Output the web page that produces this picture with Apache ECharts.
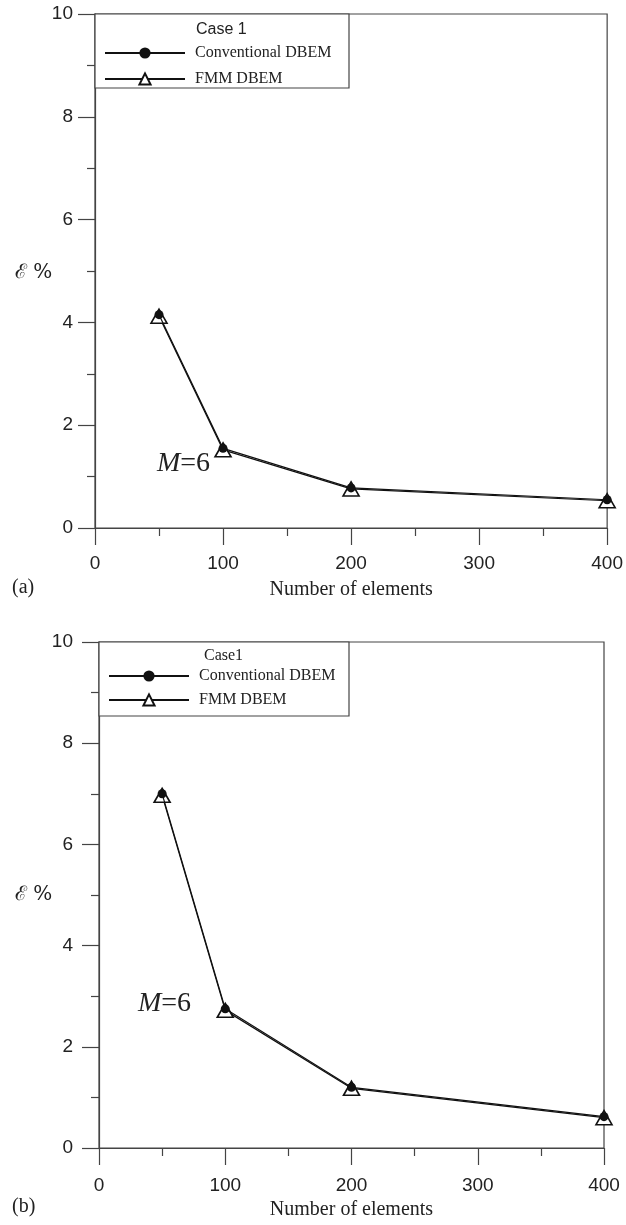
<!DOCTYPE html>
<html><head><meta charset="utf-8">
<script src="https://cdn.jsdelivr.net/npm/echarts@6/dist/echarts.min.js"></script>
<style>html,body{margin:0;padding:0;background:#fff}#c{width:626px;height:1225px}</style>
</head><body><div id="c"></div>
<script>
// Data
const elements = [50, 100, 200, 400];
const convA = [4.15, 1.55, 0.78, 0.55];
const fmmA  = [4.12, 1.52, 0.76, 0.53];
const convB = [7.0, 2.75, 1.2, 0.62];
const fmmB  = [6.97, 2.72, 1.18, 0.60];
const xRange = [0, 400];
const yRange = [0, 10];
const legendNames = ['Conventional DBEM', 'FMM DBEM'];
const caseLabels = ['Case 1', 'Case1'];
const panelLabels = ['(a)', '(b)'];
const xName = 'Number of elements';
const yName = 'ℰ %';

const pairs = (ys) => elements.map((x, i) => [x, ys[i]]);
const AX = '#444';
const SANS = 'Liberation Sans, Arial, sans-serif';
const SERIF = 'Liberation Serif, Times New Roman, serif';

function xAxis(gi, margin, gap) {
  return {
    type: 'value', gridIndex: gi, min: xRange[0], max: xRange[1], interval: 100,
    axisLine: { show: true, lineStyle: { color: AX, width: 1.2 } },
    axisTick: { show: true, inside: false, length: 17, lineStyle: { color: AX, width: 1.2 } },
    minorTick: { show: true, splitNumber: 2, length: 8, lineStyle: { color: AX, width: 1.2 } },
    splitLine: { show: false },
    axisLabel: { margin: margin, fontFamily: SANS, fontSize: 19, color: '#222' },
    name: xName, nameLocation: 'middle', nameGap: gap,
    nameTextStyle: { fontFamily: SERIF, fontSize: 20, color: '#222' }
  };
}
function yAxis(gi, margin) {
  return {
    type: 'value', gridIndex: gi, min: yRange[0], max: yRange[1], interval: 2,
    axisLine: { show: true, lineStyle: { color: AX, width: 1.2 } },
    axisTick: { show: true, inside: false, length: 17, lineStyle: { color: AX, width: 1.2 } },
    minorTick: { show: true, splitNumber: 2, length: 8, lineStyle: { color: AX, width: 1.2 } },
    splitLine: { show: false },
    axisLabel: { margin: margin, fontFamily: SANS, fontSize: 19, color: '#222' }
  };
}
function fmmSeries(gi, ys) {
  return {
    name: legendNames[1], type: 'line', xAxisIndex: gi, yAxisIndex: gi, data: pairs(ys),
    symbol: 'triangle', symbolSize: [16, 14],
    lineStyle: { color: '#111', width: 1.2 },
    itemStyle: { color: '#fff', borderColor: '#111', borderWidth: 1.6 },
    z: 2, animation: false
  };
}
function convSeries(gi, ys) {
  return {
    name: legendNames[0], type: 'line', xAxisIndex: gi, yAxisIndex: gi, data: pairs(ys),
    symbol: 'circle', symbolSize: 9,
    lineStyle: { color: '#111', width: 1.2 },
    itemStyle: { color: '#111', borderColor: '#111', borderWidth: 0 },
    z: 3, animation: false
  };
}
function legend(left, top, gap) {
  return {
    orient: 'vertical', left: left, top: top, padding: 0,
    itemWidth: 80, itemHeight: 14, itemGap: gap, selectedMode: false,
    data: legendNames,
    textStyle: { fontFamily: SERIF, fontSize: 16, color: '#222', padding: [0, 0, 0, 5] }
  };
}
function txt(x, y, text, font, size, extra) {
  return Object.assign({
    type: 'text', left: x, top: y - size * 0.6,
    style: { text: text, fontFamily: font, fontSize: size, fill: '#222' }, z: 10
  }, extra || {});
}

const chart = echarts.init(document.getElementById('c'), null, { renderer: 'canvas' });
chart.setOption({
  animation: false,
  backgroundColor: '#fff',
  grid: [
    { left: 95, top: 14, width: 514, height: 514, show: true, borderColor: AX, borderWidth: 1.2, backgroundColor: 'transparent' },
    { left: 99, top: 642, width: 505, height: 506, show: true, borderColor: AX, borderWidth: 1.2, backgroundColor: 'transparent' }
  ],
  xAxis: [xAxis(0, 26, 52), xAxis(1, 28, 52)],
  yAxis: [yAxis(0, 22), yAxis(1, 26)],
  legend: [legend(104, 45, 10), legend(108, 668, 8)],
  series: [fmmSeries(0, fmmA), convSeries(0, convA), fmmSeries(1, fmmB), convSeries(1, convB)],
  graphic: [
    { type: 'rect', shape: { x: 95, y: 14, width: 254, height: 74 }, style: { fill: '#fff', stroke: AX, lineWidth: 1.2 }, z: 1, silent: true },
    { type: 'rect', shape: { x: 99, y: 642, width: 250, height: 74 }, style: { fill: '#fff', stroke: AX, lineWidth: 1.2 }, z: 1, silent: true },
    txt(196, 31, caseLabels[0], SANS, 16),
    txt(204, 657, caseLabels[1], SERIF, 16),
    txt(15, 275, yName, 'DejaVu Serif, serif', 20, {}),
    txt(15, 897, yName, 'DejaVu Serif, serif', 20, {}),
    txt(12, 590, panelLabels[0], SERIF, 20),
    txt(12, 1209, panelLabels[1], SERIF, 20),
    { type: 'text', left: 157, top: 450, z: 10,
      style: { text: '{i|M}=6', fontFamily: SERIF, fontSize: 28, fill: '#222',
        rich: { i: { fontFamily: SERIF, fontStyle: 'italic', fontSize: 28, fill: '#222' } } } },
    { type: 'text', left: 138, top: 990, z: 10,
      style: { text: '{i|M}=6', fontFamily: SERIF, fontSize: 28, fill: '#222',
        rich: { i: { fontFamily: SERIF, fontStyle: 'italic', fontSize: 28, fill: '#222' } } } }
  ]
});
</script>
</body></html>
